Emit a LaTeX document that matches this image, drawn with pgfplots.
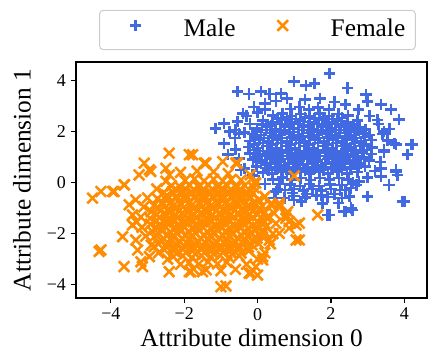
\documentclass[border=0pt]{standalone}
\usepackage{fontspec}
\setmainfont{Liberation Serif}
\usepackage{pgfplots}
\pgfplotsset{compat=1.18}
\definecolor{maleblue}{RGB}{65,105,225}
\definecolor{femaleorange}{RGB}{255,140,0}
\begin{document}
\begin{tikzpicture}
\begin{axis}[
  scale only axis, width=263.25pt, height=177pt,
  xmin=-4.95, xmax=4.62, ymin=-4.52, ymax=4.72,
  axis line style={line width=0.9pt},
  xtick={-4,-2,0,2,4}, xticklabels={−4,−2,0,2,4},
  ytick={-4,-2,0,2,4}, yticklabels={−4,−2,0,2,4},
  xtick pos=lower, ytick pos=left,
  tick align=outside, major tick length=4pt,
  tick style={line width=0.9pt, black},
  ticklabel style={font=\fontsize{13.5}{16}\selectfont},
  label style={font=\fontsize{19}{22}\selectfont},
  xlabel={Attribute dimension 0}, ylabel={Attribute dimension 1},
  xlabel style={at={(axis description cs:0.5,0)}, anchor=base, yshift=-36.75pt},
  ylabel style={at={(axis description cs:0,0.5)}, anchor=center, yshift=40.5pt},
  legend columns=2,
  legend style={at={(0.517,1)}, anchor=south, yshift=9pt, draw=black!20, line width=0.75pt,
    rounded corners=2.5pt, fill=white, inner xsep=7.5pt, inner ysep=7pt,
    font=\fontsize{19}{22}\selectfont,
    nodes={inner sep=0pt, text height=0.75em, text depth=0.25em},
    /tikz/every even column/.append style={column sep=15.75pt},
    /tikz/every odd column/.append style={column sep=16.5pt}},
  legend image code/.code={\path[draw=none, fill=none] (0pt,6pt) -- (39pt,6pt); \draw[#1, only marks] plot coordinates {(19.5pt,6pt)};},
]
\addplot[only marks, mark=+, mark size=4.3pt, color=maleblue, mark options={line width=1.9pt, sharp corners}] coordinates {
(0.9,2.88) (1.15,2.95) (1.4,2.85) (1.65,2.93) (1.95,2.87)
(0.42,2.62) (0.68,2.7) (0.92,2.6) (1.18,2.68) (1.43,2.6) (1.7,2.7) (1.95,2.61) (2.2,2.69) (2.46,2.63)
(0.15,2.43) (0.4,2.36) (0.66,2.45) (0.9,2.35) (1.16,2.44) (1.42,2.37) (1.67,2.45) (1.92,2.36) (2.18,2.44) (2.44,2.35) (2.72,2.42)
(-0.02,2.12) (0.24,2.19) (0.5,2.1) (0.75,2.18) (1.0,2.11) (1.26,2.2) (1.52,2.1) (1.77,2.18) (2.02,2.12) (2.28,2.19) (2.55,2.1) (2.78,2.17) (2.95,2.08)
(-0.14,1.9) (0.1,1.86) (0.36,1.94) (0.6,1.86) (0.86,1.93) (1.12,1.85) (1.37,1.94) (1.62,1.86) (1.88,1.93) (2.13,1.85) (2.38,1.94) (2.64,1.87) (2.88,1.93) (3.05,1.86)
(-0.2,1.62) (0.05,1.68) (0.3,1.6) (0.55,1.68) (0.8,1.61) (1.05,1.69) (1.3,1.6) (1.56,1.68) (1.81,1.61) (2.06,1.68) (2.32,1.6) (2.57,1.69) (2.82,1.61) (3.1,1.67)
(-0.24,1.4) (0.0,1.36) (0.26,1.44) (0.52,1.36) (0.77,1.43) (1.02,1.35) (1.28,1.44) (1.53,1.36) (1.78,1.43) (2.04,1.35) (2.3,1.44) (2.55,1.37) (2.8,1.43) (3.12,1.38)
(-0.2,1.14) (0.06,1.1) (0.32,1.18) (0.57,1.1) (0.82,1.17) (1.08,1.09) (1.33,1.18) (1.58,1.1) (1.84,1.17) (2.1,1.09) (2.35,1.18) (2.6,1.1) (2.86,1.17) (3.1,1.12)
(-0.13,0.9) (0.12,0.86) (0.38,0.94) (0.63,0.86) (0.88,0.93) (1.14,0.85) (1.39,0.94) (1.64,0.86) (1.9,0.93) (2.15,0.85) (2.4,0.94) (2.66,0.86) (2.9,0.92) (3.04,0.87)
(-0.03,0.63) (0.22,0.69) (0.48,0.61) (0.73,0.68) (0.98,0.6) (1.24,0.69) (1.5,0.61) (1.75,0.68) (2.0,0.6) (2.26,0.69) (2.52,0.61) (2.76,0.67) (2.93,0.62)
(0.15,0.4) (0.4,0.36) (0.66,0.44) (0.91,0.36) (1.16,0.43) (1.42,0.35) (1.67,0.44) (1.92,0.36) (2.18,0.43) (2.44,0.36) (2.72,0.42)
(0.42,0.13) (0.68,0.19) (0.93,0.11) (1.19,0.18) (1.45,0.1) (1.7,0.18) (1.96,0.12) (2.22,0.18) (2.48,0.12)
(0.9,-0.08) (1.16,-0.14) (1.42,-0.06) (1.68,-0.13) (1.98,-0.07)
(0.75,-0.3) (1.0,-0.25) (1.25,-0.32) (1.5,-0.26) (1.75,-0.31) (2.0,-0.25) (2.25,-0.3) (2.55,-0.22)
(1.0,-0.52) (1.3,-0.58) (1.6,-0.5) (1.9,-0.56) (2.3,-0.6)
(0.6,-0.05) (2.3,-0.1) (2.6,0.0)
(-0.3,2.6) (0.0,2.75) (-0.2,2.3) (0.2,2.85) (-0.35,1.95)
(0.55,2.5) (0.8,2.55) (1.05,2.49) (1.3,2.54) (1.55,2.5) (1.8,2.55) (2.05,2.48) (2.3,2.53)
(0.12,2.27) (0.37,2.24) (0.62,2.3) (0.87,2.25) (1.12,2.29) (1.37,2.23) (1.62,2.3) (1.87,2.25) (2.12,2.29) (2.37,2.24) (2.62,2.28)
(-0.02,2.0) (0.23,2.05) (0.48,1.99) (0.73,2.04) (0.98,1.98) (1.23,2.05) (1.48,2.0) (1.73,2.04) (1.98,1.99) (2.23,2.05) (2.48,2.0) (2.73,2.03)
(-0.08,1.77) (0.17,1.74) (0.42,1.8) (0.67,1.75) (0.92,1.79) (1.17,1.73) (1.42,1.8) (1.67,1.75) (1.92,1.79) (2.17,1.74) (2.42,1.8) (2.67,1.75) (2.92,1.78)
(-0.1,1.5) (0.15,1.55) (0.4,1.49) (0.65,1.54) (0.9,1.48) (1.15,1.55) (1.4,1.5) (1.65,1.54) (1.9,1.49) (2.15,1.55) (2.4,1.5) (2.65,1.54) (2.9,1.5)
(-0.1,1.27) (0.15,1.24) (0.4,1.3) (0.65,1.25) (0.9,1.29) (1.15,1.23) (1.4,1.3) (1.65,1.25) (1.9,1.29) (2.15,1.24) (2.4,1.3) (2.65,1.25) (2.9,1.28)
(-0.05,1.0) (0.2,1.05) (0.45,0.99) (0.7,1.04) (0.95,0.98) (1.2,1.05) (1.45,1.0) (1.7,1.04) (1.95,0.99) (2.2,1.05) (2.45,1.0) (2.7,1.04) (2.9,0.99)
(0.1,0.77) (0.35,0.74) (0.6,0.8) (0.85,0.75) (1.1,0.79) (1.35,0.73) (1.6,0.8) (1.85,0.75) (2.1,0.79) (2.35,0.74) (2.6,0.8) (2.8,0.75)
(0.3,0.5) (0.55,0.55) (0.8,0.49) (1.05,0.54) (1.3,0.48) (1.55,0.55) (1.8,0.5) (2.05,0.54) (2.3,0.49) (2.55,0.53)
(-0.55,2.4) (-0.4,2.7) (-0.1,2.95) (0.2,3.1) (0.5,3.2) (0.8,3.3) (1.3,3.25) (1.7,3.3) (2.1,3.15) (2.4,3.05) (2.75,2.85) (3.05,2.6) (3.3,2.3) (3.4,1.9) (3.55,1.65) (3.45,1.2) (3.35,0.8) (3.2,0.45) (3.0,0.2) (2.7,-0.1) (2.4,-0.3) (2.1,-0.45) (1.75,-0.5) (1.35,-0.45) (0.95,-0.4) (0.55,-0.25) (0.2,-0.05) (-0.1,0.25) (-0.35,0.55) (-0.5,0.95) (-0.6,1.3) (-0.62,1.75) (-0.6,2.05) (1.2,-0.75) (2.2,-0.8) (0.45,-0.6) (3.6,2.1) (-0.8,1.1) (-0.45,0.5)
(-0.55,3.56) (-0.23,3.47) (0.09,3.56) (0.32,3.47) (0.64,3.49) (1.0,3.95) (1.32,3.79) (1.55,3.88) (-1.14,2.12) (-0.91,2.31) (-0.77,1.99) (-0.91,1.53) (-0.5,1.92) (1.96,4.26) (2.45,3.7) (2.96,3.44) (3.0,3.18) (3.37,3.05) (3.64,2.85) (3.86,2.46) (4.18,1.48) (4.09,1.09) (3.77,0.5) (3.81,0.3) (3.59,-0.09) (4.0,-0.75) (3.37,0.56) (3.37,0.24) (3.0,-0.55) (2.5,-0.55) (2.41,-1.14) (2.59,-1.07) (1.91,-1.27) (1.77,-0.81) (1.0,-0.68) (0.5,-0.35) (-0.14,0.3) (4.23,1.5) (3.73,1.53) (3.45,1.99) (3.27,2.45) (3.77,1.48) (3.45,1.28) (3.77,0.43) (3.95,-0.75) (2.77,0.04) (1.96,-1.27) (2.36,-1.14) (2.55,-1.0) (0.73,-0.61)
};
\addlegendentry{Male}
\addplot[only marks, mark=x, mark size=5.6pt, color=femaleorange, mark options={line width=1.9pt, sharp corners}] coordinates {
(-1.98,0.08) (-1.72,0.14) (-1.46,0.06) (-1.2,0.13) (-0.95,0.07) (-0.72,0.12)
(-2.35,-0.13) (-2.1,-0.19) (-1.85,-0.11) (-1.6,-0.18) (-1.34,-0.1) (-1.08,-0.18) (-0.83,-0.12) (-0.57,-0.19) (-0.35,-0.12)
(-2.57,-0.4) (-2.32,-0.36) (-2.06,-0.44) (-1.8,-0.36) (-1.55,-0.43) (-1.3,-0.35) (-1.04,-0.44) (-0.79,-0.36) (-0.53,-0.43) (-0.3,-0.37) (-0.12,-0.42)
(-2.73,-0.63) (-2.48,-0.69) (-2.22,-0.61) (-1.97,-0.68) (-1.72,-0.6) (-1.46,-0.69) (-1.2,-0.61) (-0.95,-0.68) (-0.7,-0.6) (-0.44,-0.69) (-0.2,-0.62) (0.03,-0.67)
(-2.83,-0.9) (-2.58,-0.86) (-2.32,-0.94) (-2.07,-0.86) (-1.82,-0.93) (-1.56,-0.85) (-1.3,-0.94) (-1.05,-0.86) (-0.8,-0.93) (-0.54,-0.85) (-0.29,-0.94) (-0.04,-0.87) (0.13,-0.92)
(-2.9,-1.14) (-2.65,-1.1) (-2.4,-1.18) (-2.14,-1.1) (-1.89,-1.17) (-1.63,-1.09) (-1.38,-1.18) (-1.12,-1.1) (-0.87,-1.17) (-0.62,-1.09) (-0.36,-1.18) (-0.11,-1.1) (0.2,-1.16)
(-2.93,-1.4) (-2.68,-1.36) (-2.42,-1.44) (-2.17,-1.36) (-1.91,-1.43) (-1.66,-1.35) (-1.4,-1.44) (-1.15,-1.36) (-0.9,-1.43) (-0.64,-1.35) (-0.39,-1.44) (-0.13,-1.36) (0.12,-1.43) (0.25,-1.38)
(-2.92,-1.63) (-2.66,-1.69) (-2.41,-1.61) (-2.16,-1.68) (-1.9,-1.6) (-1.65,-1.69) (-1.39,-1.61) (-1.14,-1.68) (-0.88,-1.6) (-0.63,-1.69) (-0.37,-1.61) (-0.12,-1.68) (0.14,-1.62)
(-2.88,-1.9) (-2.63,-1.86) (-2.37,-1.94) (-2.12,-1.86) (-1.86,-1.93) (-1.61,-1.85) (-1.35,-1.94) (-1.1,-1.86) (-0.84,-1.93) (-0.59,-1.85) (-0.33,-1.94) (-0.08,-1.86) (0.18,-1.92)
(-2.82,-2.13) (-2.56,-2.19) (-2.31,-2.11) (-2.05,-2.18) (-1.8,-2.1) (-1.54,-2.19) (-1.29,-2.11) (-1.03,-2.18) (-0.78,-2.1) (-0.52,-2.19) (-0.27,-2.11) (-0.01,-2.18) (0.13,-2.12)
(-2.7,-2.4) (-2.45,-2.36) (-2.19,-2.44) (-1.94,-2.36) (-1.68,-2.43) (-1.43,-2.35) (-1.17,-2.44) (-0.92,-2.36) (-0.66,-2.43) (-0.41,-2.35) (-0.15,-2.44) (0.02,-2.38)
(-2.54,-2.63) (-2.28,-2.69) (-2.03,-2.61) (-1.77,-2.68) (-1.52,-2.6) (-1.26,-2.69) (-1.01,-2.61) (-0.75,-2.68) (-0.5,-2.6) (-0.24,-2.67)
(-2.3,-2.9) (-2.04,-2.86) (-1.79,-2.94) (-1.53,-2.86) (-1.28,-2.93) (-1.02,-2.85) (-0.77,-2.94) (-0.5,-2.87)
(-1.86,-3.13) (-1.6,-3.19) (-1.35,-3.11) (-1.09,-3.18) (-0.84,-3.12)
(-2.22,-0.27) (-1.97,-0.24) (-1.72,-0.3) (-1.47,-0.25) (-1.22,-0.29) (-0.97,-0.23) (-0.72,-0.3) (-0.47,-0.26)
(-2.47,-0.5) (-2.22,-0.55) (-1.97,-0.49) (-1.72,-0.54) (-1.47,-0.48) (-1.22,-0.55) (-0.97,-0.5) (-0.72,-0.54) (-0.47,-0.49) (-0.22,-0.53)
(-2.6,-0.77) (-2.35,-0.74) (-2.1,-0.8) (-1.85,-0.75) (-1.6,-0.79) (-1.35,-0.73) (-1.1,-0.8) (-0.85,-0.75) (-0.6,-0.79) (-0.35,-0.74) (-0.1,-0.78)
(-2.7,-1.0) (-2.45,-1.05) (-2.2,-0.99) (-1.95,-1.04) (-1.7,-0.98) (-1.45,-1.05) (-1.2,-1.0) (-0.95,-1.04) (-0.7,-0.99) (-0.45,-1.05) (-0.2,-1.0) (0.05,-1.03)
(-2.75,-1.27) (-2.5,-1.24) (-2.25,-1.3) (-2.0,-1.25) (-1.75,-1.29) (-1.5,-1.23) (-1.25,-1.3) (-1.0,-1.25) (-0.75,-1.29) (-0.5,-1.24) (-0.25,-1.3) (0.0,-1.25)
(-2.75,-1.5) (-2.5,-1.55) (-2.25,-1.49) (-2.0,-1.54) (-1.75,-1.48) (-1.5,-1.55) (-1.25,-1.5) (-1.0,-1.54) (-0.75,-1.49) (-0.5,-1.55) (-0.25,-1.5) (0.0,-1.53)
(-2.75,-1.77) (-2.5,-1.74) (-2.25,-1.8) (-2.0,-1.75) (-1.75,-1.79) (-1.5,-1.73) (-1.25,-1.8) (-1.0,-1.75) (-0.75,-1.79) (-0.5,-1.74) (-0.25,-1.8) (0.0,-1.76)
(-2.7,-2.0) (-2.45,-2.05) (-2.2,-1.99) (-1.95,-2.04) (-1.7,-1.98) (-1.45,-2.05) (-1.2,-2.0) (-0.95,-2.04) (-0.7,-1.99) (-0.45,-2.05) (-0.2,-2.0) (0.02,-2.03)
(-2.62,-2.27) (-2.37,-2.24) (-2.12,-2.3) (-1.87,-2.25) (-1.62,-2.29) (-1.37,-2.23) (-1.12,-2.3) (-0.87,-2.25) (-0.62,-2.29) (-0.37,-2.24) (-0.12,-2.28)
(-2.5,-2.5) (-2.25,-2.55) (-2.0,-2.49) (-1.75,-2.54) (-1.5,-2.48) (-1.25,-2.55) (-1.0,-2.5) (-0.75,-2.54) (-0.5,-2.49) (-0.25,-2.53)
(-2.2,-2.77) (-1.95,-2.74) (-1.7,-2.8) (-1.45,-2.75) (-1.2,-2.79) (-0.95,-2.73) (-0.7,-2.8) (-0.45,-2.76)
(-2.1,0.4) (-1.65,0.45) (-1.2,0.42) (-0.8,0.35) (-0.45,0.1) (-0.1,-0.2) (0.2,-0.55) (0.35,-0.85) (0.45,-1.2) (0.5,-1.6) (0.42,-2.0) (0.35,-2.4) (0.2,-2.75) (0.0,-3.0) (-0.3,-3.2) (-0.6,-3.4) (-1.0,-3.45) (-1.4,-3.42) (-1.75,-3.38) (-2.1,-3.2) (-2.45,-3.0) (-2.7,-2.75) (-2.9,-2.45) (-3.05,-2.1) (-3.15,-1.75) (-3.18,-1.35) (-3.1,-0.95) (-3.0,-0.6) (-2.75,-0.25) (-2.5,0.05) (-2.4,0.3) (0.6,-0.95) (-3.3,-1.55) (-0.2,0.3)
(-2.41,1.15) (-1.86,1.09) (-3.09,0.76) (-2.95,0.5) (-2.5,0.56) (-3.23,0.3) (-3.63,-0.09) (-3.91,-0.35) (-4.27,-0.35) (-4.5,-0.61) (-3.5,-0.87) (-4.32,-2.7) (-3.68,-2.12) (-3.64,-3.29) (-2.41,-3.49) (-0.86,-4.05) (-1.0,-4.08) (-0.18,-3.55) (0.0,-3.62) (0.14,-3.03) (-1.41,0.76) (-0.95,0.82) (-0.59,0.76) (-1.5,-3.49) (-1.82,-3.49) (-3.18,-3.1) (1.05,-2.25) (0.77,-1.4) (0.86,-1.79) (0.59,-0.87) (-0.05,-0.02) (1.0,0.26) (0.59,-0.81) (0.77,-1.27) (1.14,-1.59) (1.64,-1.27) (-2.91,0.43) (-3.32,-0.68) (-3.41,-1.27) (-3.41,-1.66) (-3.32,-2.25) (-3.27,-2.64) (-2.95,-2.9) (-2.82,-2.51) (-1.86,-3.49) (-3.14,-3.29) (-1.77,1.09) (-1.45,0.76) (-0.55,0.76) (0.41,-0.87) (0.23,-1.73) (0.59,-1.99) (0.32,-2.25) (-0.05,-3.29) (0.14,-2.9) (-0.23,-3.55) (1.05,-1.66) (0.86,-1.53) (1.14,-2.25) (-3.95,-0.35) (-3.64,-0.09) (-4.27,-2.64) (-0.09,0.0) (0.82,-1.14)
};
\addlegendentry{Female}
\end{axis}
\pgfresetboundingbox
\path (current axis.south west) ++(-57pt,-42.75pt) coordinate (bbA);
\path (current axis.north east) ++(0.75pt,46.5pt) coordinate (bbB);
\path[use as bounding box] (bbA) rectangle (bbB);
\end{tikzpicture}
\end{document}
